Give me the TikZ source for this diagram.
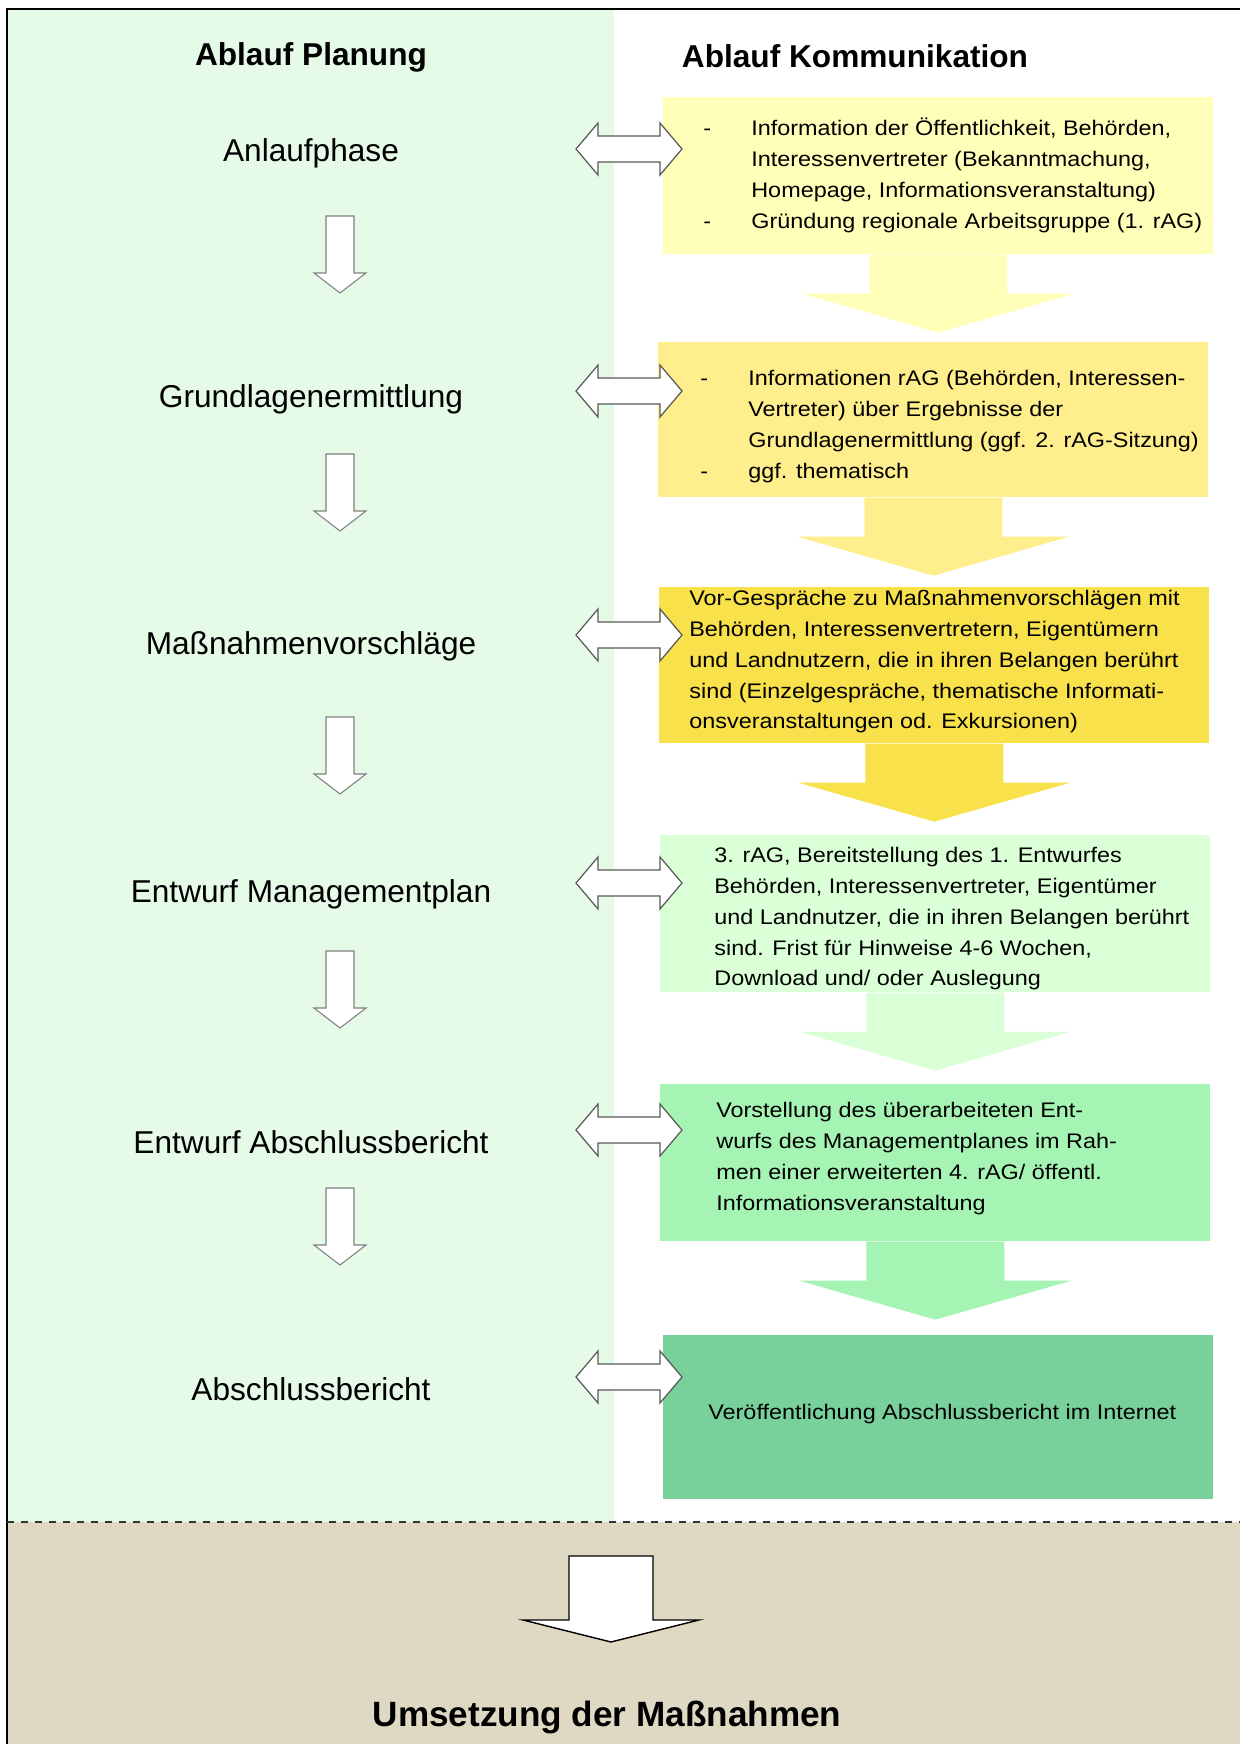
\documentclass[tikz,border=0pt]{standalone}
\usepackage{fontspec}
\setmainfont{Liberation Sans}
\newfontfamily\boxfont[FakeStretch=1.11]{Liberation Sans}
\usepackage{tikz}
\usetikzlibrary{positioning}

\definecolor{planbg}{HTML}{E5FBE8}
\definecolor{umsetzbg}{HTML}{DFD9C3}
\definecolor{gelbA}{HTML}{FFFFB9}
\definecolor{gelbB}{HTML}{FFEE8C}
\definecolor{gelbC}{HTML}{F8E14A}
\definecolor{gruenA}{HTML}{DBFFD6}
\definecolor{gruenB}{HTML}{A6F4B4}
\definecolor{gruenC}{HTML}{78D09B}

\begin{document}
\begin{tikzpicture}[x=0.02cm,y=-0.02cm,
  kopf/.style={font=\fontsize{18}{22}\selectfont\bfseries},
  phase/.style={font=\fontsize{18}{22}\selectfont},
  kbox/.style={rectangle,inner sep=0pt,minimum width=11cm,anchor=north west},
  ktext/.style={anchor=north west,inner sep=0pt,align=left,font=\boxfont\fontsize{12}{17.5}\selectfont},
  abwaerts/.style={fill=white,draw=black!50,line width=0.6pt},
  doppel/.style={fill=white,draw=black!65,line width=0.7pt},
  rahmen/.style={draw=black,line width=0.9pt},
  trenn/.style={draw=black!80,line width=0.9pt,dash pattern=on 0.14cm off 0.14cm}]
  \useasboundingbox (0,0) rectangle (1240,1744);
  \clip (0,0) rectangle (1240,1744);

  % Hintergrund
  \fill[planbg] (7,9) rectangle (614,1522);
  \fill[umsetzbg] (7,1522) rectangle (1250,1750);
  \draw[rahmen] (1250,9) -- (7,9) -- (7,1750);
  \draw[trenn] (7,1522) -- (1250,1522);

  % Spaltenkoepfe
  \node[kopf] (hp) at (311,57) {Ablauf Planung};
  \node[kopf] (hk) at (855,56) {Ablauf Kommunikation};

  % Planung
  \node[phase] (p1) at (311,153) {Anlaufphase};
  \node[phase] (p2) at (311,399) {Grundlagenermittlung};
  \node[phase] (p3) at (311,646) {Maßnahmenvorschläge};
  \node[phase] (p4) at (311,894) {Entwurf Managementplan};
  \node[phase] (p5) at (311,1142) {Entwurf Abschlussbericht};
  \node[phase] (p6) at (311,1389) {Abschlussbericht};

  \foreach \y in {216,454,717,951,1188}
    \draw[abwaerts] (326,\y) -- ++(28,0) -- ++(0,57) -- ++(12,0) -- ++(-26,20) -- ++(-26,-20) -- ++(12,0) -- cycle;

  % Kommunikation
  \node[kbox,fill=gelbA,minimum height=3.14cm] (k1) at (663,97) {};
  \node[kbox,fill=gelbB,minimum height=3.10cm] (k2) at (658,342) {};
  \node[kbox,fill=gelbC,minimum height=3.12cm] (k3) at (659,587) {};
  \node[kbox,fill=gruenA,minimum height=3.14cm] (k4) at (660,835) {};
  \node[kbox,fill=gruenB,minimum height=3.14cm] (k5) at (660,1084) {};
  \node[kbox,fill=gruenC,minimum height=3.28cm] (k6) at (663,1335) {};

  \foreach \k/\c in {k1/gelbA,k2/gelbB,k3/gelbC,k4/gruenA,k5/gruenB}
    \fill[\c] (\k.south) ++(-69,0) -- ++(138,0) -- ++(0,39) -- ++(67,0) -- ++(-136,39) -- ++(-136,-39) -- ++(67,0) -- cycle;

  \foreach \y in {149,391,635,883,1130,1377}
    \draw[doppel] (576,\y) -- ++(22,-26) -- ++(0,13) -- ++(62,0) -- ++(0,-13) -- ++(22,26)
      -- ++(-22,26) -- ++(0,-13) -- ++(-62,0) -- ++(0,13) -- cycle;

  \node[ktext] (t1) at (703,114) {\strut\makebox[0.96cm][l]{-}Information der Öffentlichkeit, Behörden,\\
    \hspace*{0.96cm}Interessenvertreter (Bekanntmachung,\\
    \hspace*{0.96cm}Homepage, Informationsveranstaltung)\\
    \makebox[0.96cm][l]{-}Gründung regionale Arbeitsgruppe (1. rAG)};
  \node[ktext] (t2) at (700,364) {\strut\makebox[0.96cm][l]{-}Informationen rAG (Behörden, Interessen-\\
    \hspace*{0.96cm}Vertreter) über Ergebnisse der\\
    \hspace*{0.96cm}Grundlagenermittlung (ggf. 2. rAG-Sitzung)\\
    \makebox[0.96cm][l]{-}ggf. thematisch};
  \node[ktext] (t3) at (689,584) {\strut Vor-Gespräche zu Maßnahmenvorschlägen mit\\
    Behörden, Interessenvertretern, Eigentümern\\
    und Landnutzern, die in ihren Belangen berührt\\
    sind (Einzelgespräche, thematische Informati-\\
    onsveranstaltungen od. Exkursionen)};
  \node[ktext] (t4) at (714,841) {\strut 3. rAG, Bereitstellung des 1. Entwurfes\\
    Behörden, Interessenvertreter, Eigentümer\\
    und Landnutzer, die in ihren Belangen berührt\\
    sind. Frist für Hinweise 4-6 Wochen,\\
    Download und/ oder Auslegung};
  \node[ktext] (t5) at (716,1096) {\strut Vorstellung des überarbeiteten Ent-\\
    wurfs des Managementplanes im Rah-\\
    men einer erweiterten 4. rAG/ öffentl.\\
    Informationsveranstaltung};
  \node[font=\boxfont\fontsize{12}{17.5}\selectfont] (t6) at ([xshift=0.08cm,yshift=0.06cm]k6.center) {Veröffentlichung Abschlussbericht im Internet};

  % Umsetzung
  \draw[fill=white,draw=black,line width=0.8pt] (569,1556) -- ++(84,0) -- ++(0,64) -- ++(46,0) -- ++(-88,22) -- ++(-88,-22) -- ++(46,0) -- cycle;
  \node[font=\fontsize{20}{24}\selectfont\bfseries] (um) at (607,1717) {Umsetzung der Maßnahmen};
\end{tikzpicture}
\end{document}
